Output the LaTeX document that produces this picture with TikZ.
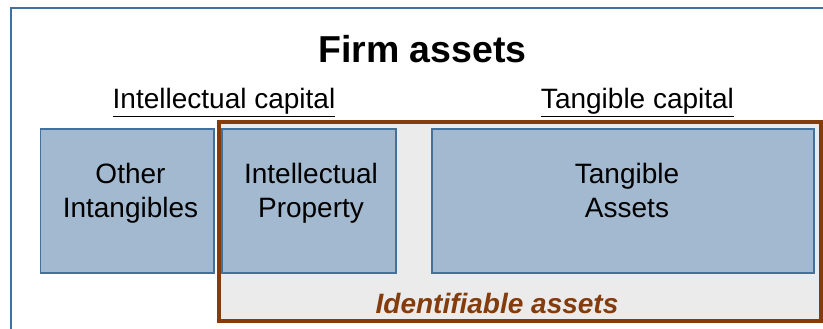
\documentclass[tikz,border=0pt]{standalone}
\usepackage{fontspec}
\setmainfont{Liberation Sans}
\definecolor{frameblue}{RGB}{65,113,156}
\definecolor{boxblue}{RGB}{162,185,208}
\definecolor{rust}{RGB}{132,60,12}
\definecolor{panelgray}{RGB}{235,235,235}
\begin{document}
\begin{tikzpicture}[x=1pt,y=-1pt,
  assetbox/.style={draw=frameblue,line width=1.3pt,fill=boxblue,inner sep=0pt},
  boxtext/.style={align=center,anchor=base,inner sep=0pt,
    font=\fontsize{28}{34}\selectfont},
  heading/.style={anchor=base,inner sep=0pt,font=\fontsize{28}{32}\selectfont}]
\useasboundingbox (0,0) rectangle (823,329);
% outer frame (runs off the right and bottom edges)
\draw[frameblue,line width=2.5pt] (11,340) -- (11,8) -- (835,8);
% identifiable-assets panel
\node[draw=rust,line width=4pt,fill=panelgray,inner sep=0pt,
  minimum width=602.3pt,minimum height=198.5pt] (panel) at (519.85,221.25) {};
% asset boxes
\node[assetbox,minimum width=173.3pt,minimum height=144pt] (other) at (127.3,201) {};
\node[assetbox,minimum width=174pt,minimum height=144pt] (ip) at (309,201) {};
\node[assetbox,minimum width=382pt,minimum height=144pt] (tang) at (623,201) {};
% base anchor sits on the last line of a two-line node
\node[boxtext] (othertext) at (130.5,217) {Other\\Intangibles};
\node[boxtext] (iptext) at (311,217) {Intellectual\\Property};
\node[boxtext] (tangtext) at (627,217) {Tangible\\Assets};
% titles
\node[anchor=base,inner sep=0pt,font=\fontsize{37.5}{42}\selectfont\bfseries] (title) at (422.5,63) {Firm assets};
\node[heading] (intcap) at (224,109) {\underline{Intellectual capital}};
\node[heading] (tangcap) at (637.5,109) {\underline{Tangible capital}};
\node[anchor=base,inner sep=0pt,text=rust,
  font=\fontsize{28}{32}\selectfont\bfseries\itshape] (ident) at (497,313) {Identifiable assets};
\end{tikzpicture}
\end{document}
